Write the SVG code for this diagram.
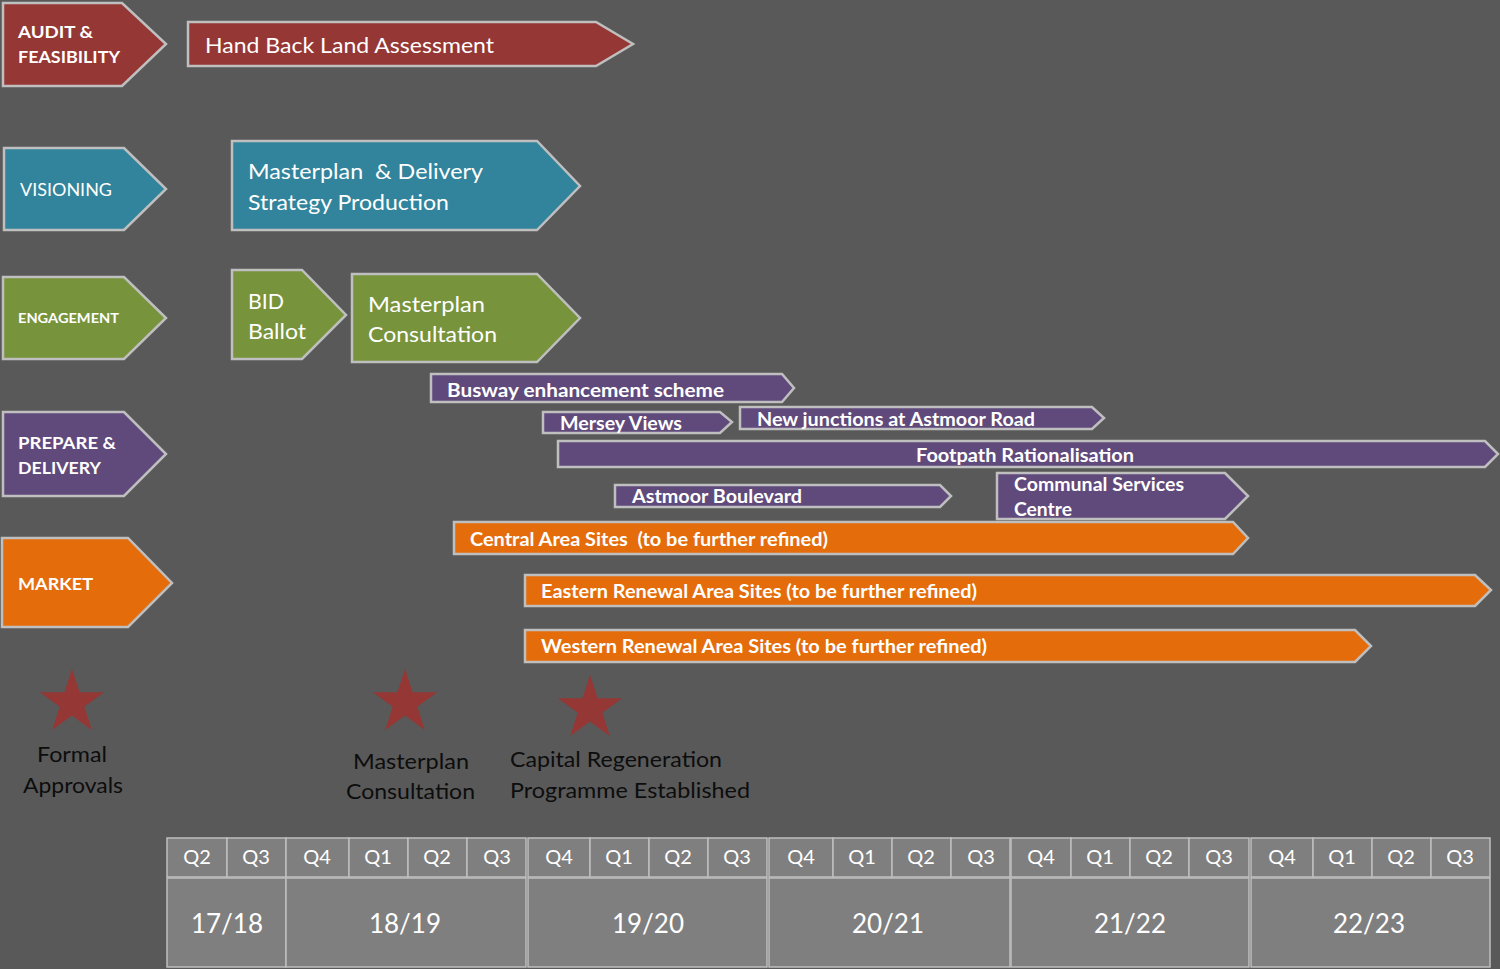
<svg xmlns="http://www.w3.org/2000/svg" width="1500" height="969" viewBox="0 0 1500 969">
<style>
.bg{fill:#595959}
.sh{stroke:#BFBFBF;stroke-width:2.5;stroke-linejoin:miter}
.red{fill:#953735}
.teal{fill:#31849B}
.green{fill:#77933C}
.purple{fill:#604A7B}
.orange{fill:#E46C0A}
.star{fill:#953735}
text{font-family:Lato,"Open Sans","Liberation Sans",sans-serif;fill:#FFFFFF}
.pre{white-space:pre}
.big{font-size:22px}
.cap{font-size:17px;font-weight:bold}
.bar{font-size:18px;font-weight:bold}
.ms{font-size:22px;fill:#0D0D0D}
.cell{fill:#7F7F7F;stroke:#BFBFBF;stroke-width:1.5}
.q{font-size:20px;text-anchor:middle}
.yr{font-size:26px;text-anchor:middle}
</style>
<rect class="bg" x="0" y="0" width="1500" height="969"/>

<g id="audit"><polygon class="sh red" points="3,3 122,3 166,44 122,86 3,86"/>
<text class="cap" x="18" y="38" textLength="75" lengthAdjust="spacingAndGlyphs">AUDIT &amp;</text>
<text class="cap" x="18" y="63" textLength="102" lengthAdjust="spacingAndGlyphs">FEASIBILITY</text></g>

<g id="handback"><polygon class="sh red" points="188,22 596,22 633,44 596,66 188,66"/>
<text class="big" x="205" y="53" textLength="289" lengthAdjust="spacingAndGlyphs">Hand Back Land Assessment</text></g>

<g id="visioning"><polygon class="sh teal" points="4,148 124,148 166,189 124,230 4,230"/>
<text x="20" y="196" font-size="18" textLength="92" lengthAdjust="spacingAndGlyphs">VISIONING</text></g>

<g id="masterplan-delivery"><polygon class="sh teal" points="232,141 537,141 580,186 537,230 232,230"/>
<text class="big pre" xml:space="preserve" x="248" y="179" textLength="235" lengthAdjust="spacingAndGlyphs">Masterplan  &amp; Delivery</text>
<text class="big" x="248" y="210" textLength="201" lengthAdjust="spacingAndGlyphs">Strategy Production</text></g>

<g id="engagement"><polygon class="sh green" points="3,277 124,277 166,318 124,359 3,359"/>
<text x="18" y="323" font-size="13" font-weight="bold" textLength="101" lengthAdjust="spacingAndGlyphs">ENGAGEMENT</text></g>

<g id="bid-ballot"><polygon class="sh green" points="232,270 302,270 346,315 302,359 232,359"/>
<text class="big" x="248" y="309" textLength="36" lengthAdjust="spacingAndGlyphs">BID</text>
<text class="big" x="248" y="339" textLength="58" lengthAdjust="spacingAndGlyphs">Ballot</text></g>

<g id="masterplan-consultation"><polygon class="sh green" points="352,274 537,274 580,318 537,362 352,362"/>
<text class="big" x="368" y="312" textLength="117" lengthAdjust="spacingAndGlyphs">Masterplan</text>
<text class="big" x="368" y="342" textLength="129" lengthAdjust="spacingAndGlyphs">Consultation</text></g>

<g id="prepare"><polygon class="sh purple" points="3,412 124,412 166,454 124,496 3,496"/>
<text class="cap" x="18" y="449" textLength="98" lengthAdjust="spacingAndGlyphs">PREPARE &amp;</text>
<text class="cap" x="18" y="474" textLength="83" lengthAdjust="spacingAndGlyphs">DELIVERY</text></g>

<g id="market"><polygon class="sh orange" points="2,538 128,538 172,583 128,627 2,627"/>
<text class="cap" x="18" y="590" textLength="75" lengthAdjust="spacingAndGlyphs">MARKET</text></g>

<g id="busway"><polygon class="sh purple" points="431,374 782,374 794,388 782,402 431,402"/>
<text class="bar" x="447" y="397" textLength="277" lengthAdjust="spacingAndGlyphs">Busway enhancement scheme</text></g>

<g id="mersey"><polygon class="sh purple" points="543,412 720,412 732,422 720,433 543,433"/>
<text class="bar" x="560" y="430" textLength="122" lengthAdjust="spacingAndGlyphs">Mersey Views</text></g>

<g id="junctions"><polygon class="sh purple" points="740,407 1092,407 1104,418 1092,429 740,429"/>
<text class="bar" x="757" y="426" textLength="278" lengthAdjust="spacingAndGlyphs">New junctions at Astmoor Road</text></g>

<g id="footpath"><polygon class="sh purple" points="558,441 1485,441 1498,454 1485,467 558,467"/>
<text class="bar" x="916" y="462" textLength="218" lengthAdjust="spacingAndGlyphs">Footpath Rationalisation</text></g>

<g id="boulevard"><polygon class="sh purple" points="615,485 940,485 951,496 940,507 615,507"/>
<text class="bar" x="632" y="503" textLength="170" lengthAdjust="spacingAndGlyphs">Astmoor Boulevard</text></g>

<g id="communal"><polygon class="sh purple" points="997,473 1225,473 1248,496 1225,519 997,519"/>
<text class="bar" x="1014" y="491" textLength="170" lengthAdjust="spacingAndGlyphs">Communal Services</text>
<text class="bar" x="1014" y="516" textLength="58" lengthAdjust="spacingAndGlyphs">Centre</text></g>

<g id="central"><polygon class="sh orange" points="454,522 1233,522 1248,538 1233,554 454,554"/>
<text class="bar pre" xml:space="preserve" x="470" y="546" textLength="358" lengthAdjust="spacingAndGlyphs">Central Area Sites  (to be further refined)</text></g>

<g id="eastern"><polygon class="sh orange" points="525,575 1475,575 1491,590 1475,606 525,606"/>
<text class="bar" x="541" y="598" textLength="436" lengthAdjust="spacingAndGlyphs">Eastern Renewal Area Sites (to be further refined)</text></g>

<g id="western"><polygon class="sh orange" points="525,630 1355,630 1371,646 1355,662 525,662"/>
<text class="bar" x="541" y="653" textLength="446" lengthAdjust="spacingAndGlyphs">Western Renewal Area Sites (to be further refined)</text></g>

<defs><polygon id="starshape" points="0,-33.7 7.6,-10.4 32.1,-10.4 12.3,4.0 19.8,27.3 0,12.9 -19.8,27.3 -12.3,4.0 -32.1,-10.4 -7.6,-10.4"/></defs>

<g id="ms-formal"><use href="#starshape" class="star" x="72" y="702.7"/>
<text class="ms" x="72" y="762" text-anchor="middle" textLength="70" lengthAdjust="spacingAndGlyphs">Formal</text>
<text class="ms" x="73" y="793" text-anchor="middle" textLength="100" lengthAdjust="spacingAndGlyphs">Approvals</text></g>

<g id="ms-masterplan"><use href="#starshape" class="star" x="405" y="702.7"/>
<text class="ms" x="411" y="769" text-anchor="middle" textLength="116" lengthAdjust="spacingAndGlyphs">Masterplan</text>
<text class="ms" x="410.5" y="799" text-anchor="middle" textLength="129" lengthAdjust="spacingAndGlyphs">Consultation</text></g>

<g id="ms-capital"><use href="#starshape" class="star" x="590" y="708.7"/>
<text class="ms" x="510" y="767" textLength="212" lengthAdjust="spacingAndGlyphs">Capital Regeneration</text>
<text class="ms" x="510" y="798" textLength="240" lengthAdjust="spacingAndGlyphs">Programme Established</text></g>

<g id="timeline">
<rect class="cell" x="167" y="838" width="60" height="39"/><text class="q" x="197" y="864">Q2</text>
<rect class="cell" x="227" y="838" width="59" height="39"/><text class="q" x="256" y="864">Q3</text>
<rect class="cell" x="286" y="838" width="63" height="39"/><text class="q" x="317" y="864">Q4</text>
<rect class="cell" x="349" y="838" width="59" height="39"/><text class="q" x="378" y="864">Q1</text>
<rect class="cell" x="408" y="838" width="59" height="39"/><text class="q" x="437" y="864">Q2</text>
<rect class="cell" x="467" y="838" width="59" height="39"/><text class="q" x="497" y="864">Q3</text>
<rect class="cell" x="528" y="838" width="62" height="39"/><text class="q" x="559" y="864">Q4</text>
<rect class="cell" x="590" y="838" width="59" height="39"/><text class="q" x="619" y="864">Q1</text>
<rect class="cell" x="649" y="838" width="59" height="39"/><text class="q" x="678" y="864">Q2</text>
<rect class="cell" x="708" y="838" width="59" height="39"/><text class="q" x="737" y="864">Q3</text>
<rect class="cell" x="769" y="838" width="64" height="39"/><text class="q" x="801" y="864">Q4</text>
<rect class="cell" x="833" y="838" width="59" height="39"/><text class="q" x="862" y="864">Q1</text>
<rect class="cell" x="892" y="838" width="59" height="39"/><text class="q" x="921" y="864">Q2</text>
<rect class="cell" x="951" y="838" width="59" height="39"/><text class="q" x="981" y="864">Q3</text>
<rect class="cell" x="1011" y="838" width="60" height="39"/><text class="q" x="1041" y="864">Q4</text>
<rect class="cell" x="1071" y="838" width="59" height="39"/><text class="q" x="1100" y="864">Q1</text>
<rect class="cell" x="1130" y="838" width="59" height="39"/><text class="q" x="1159" y="864">Q2</text>
<rect class="cell" x="1189" y="838" width="60" height="39"/><text class="q" x="1219" y="864">Q3</text>
<rect class="cell" x="1251" y="838" width="62" height="39"/><text class="q" x="1282" y="864">Q4</text>
<rect class="cell" x="1313" y="838" width="59" height="39"/><text class="q" x="1342" y="864">Q1</text>
<rect class="cell" x="1372" y="838" width="59" height="39"/><text class="q" x="1401" y="864">Q2</text>
<rect class="cell" x="1431" y="838" width="59" height="39"/><text class="q" x="1460" y="864">Q3</text>
<rect class="cell" x="167" y="878" width="119" height="89"/><text class="yr" x="227" y="933">17/18</text>
<rect class="cell" x="286" y="878" width="240" height="89"/><text class="yr" x="405" y="933">18/19</text>
<rect class="cell" x="528" y="878" width="239" height="89"/><text class="yr" x="648" y="933">19/20</text>
<rect class="cell" x="769" y="878" width="241" height="89"/><text class="yr" x="888" y="933">20/21</text>
<rect class="cell" x="1011" y="878" width="238" height="89"/><text class="yr" x="1130" y="933">21/22</text>
<rect class="cell" x="1251" y="878" width="239" height="89"/><text class="yr" x="1369" y="933">22/23</text>
</g>
</svg>
